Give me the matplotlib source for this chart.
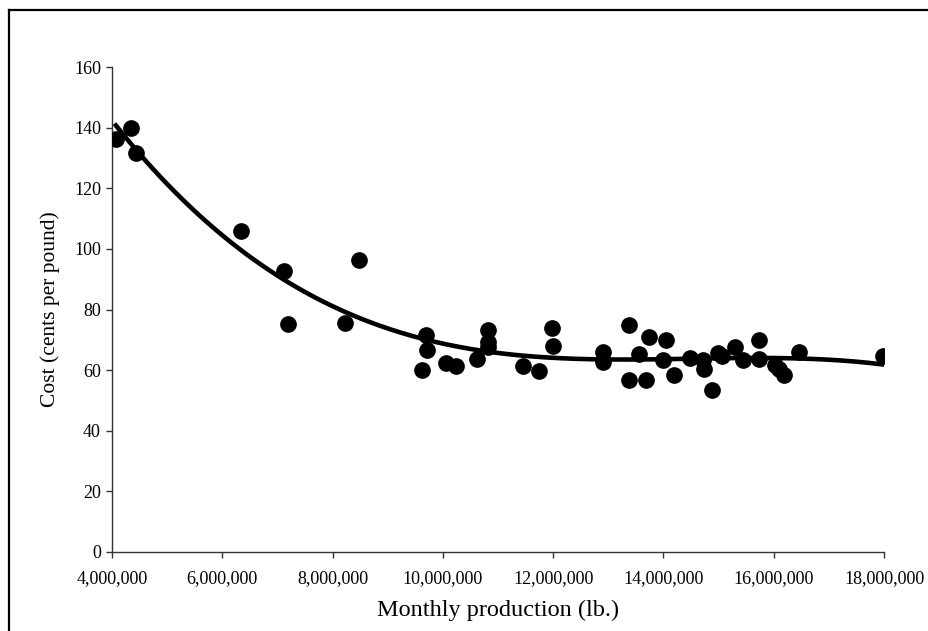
import numpy as np
import matplotlib.pyplot as plt
from matplotlib.lines import Line2D
from matplotlib.ticker import FuncFormatter

plt.rcParams["font.family"] = ["Liberation Serif", "DejaVu Serif"]

# Monthly production (lb.) and cost (cents per pound)
production = [4.07e6, 4.34e6, 4.44e6, 6.34e6, 7.11e6, 7.20e6, 8.23e6, 8.48e6,
              9.63e6, 9.69e6, 9.72e6, 10.06e6, 10.24e6, 10.61e6, 10.81e6, 10.81e6,
              10.81e6, 11.46e6, 11.74e6, 11.97e6, 12.00e6, 12.90e6, 12.90e6,
              13.38e6, 13.38e6, 13.56e6, 13.68e6, 13.73e6, 14.00e6, 14.04e6,
              14.19e6, 14.48e6, 14.71e6, 14.74e6, 14.88e6, 14.98e6, 15.06e6,
              15.30e6, 15.44e6, 15.73e6, 15.73e6, 16.02e6, 16.10e6, 16.19e6,
              16.45e6, 17.98e6]
cost = [136.4, 140.0, 131.7, 105.8, 92.6, 75.1, 75.7, 96.2,
        60.0, 71.7, 66.6, 62.4, 61.4, 63.6, 73.1, 69.3,
        67.5, 61.4, 59.6, 74.0, 67.9, 66.0, 62.7,
        74.8, 56.7, 65.2, 56.7, 70.9, 63.5, 70.1,
        58.3, 64.1, 63.3, 60.5, 53.4, 65.5, 64.6,
        67.6, 63.5, 69.9, 63.8, 61.6, 60.5, 58.3,
        66.0, 64.7]

x = np.array(production)
y = np.array(cost)

# third-order polynomial trendline (like the spreadsheet one)
coef = np.polyfit(x / 1e6, y, 3)
xs = np.linspace(x.min(), x.max(), 200)
ys = np.polyval(coef, xs / 1e6)

fig = plt.figure(figsize=(9.29, 6.31), dpi=100)
ax = fig.add_axes([0.1206, 0.1252, 0.8310, 0.7686])

ax.plot(x, y, "o", color="black", markersize=11, zorder=3)
ax.plot(xs, ys, color="black", linewidth=3.3, zorder=2)

ax.set_xlim(4e6, 18e6)
ax.set_ylim(0, 160)
ax.set_xticks(np.arange(4e6, 18e6 + 1, 2e6))
ax.set_yticks(np.arange(0, 161, 20))
ax.xaxis.set_major_formatter(FuncFormatter(lambda v, p: f"{int(v):,}"))

for side in ("top", "right"):
    ax.spines[side].set_visible(False)
for side in ("left", "bottom"):
    ax.spines[side].set_linewidth(1)
    ax.spines[side].set_color("#333333")
ax.tick_params(direction="out", length=4, width=1, color="#333333",
               labelsize=13, pad=4)
ax.tick_params(axis="x", pad=9)

ax.set_xlabel("Monthly production (lb.)", fontsize=17.5, labelpad=9)
ax.set_ylabel("Cost (cents per pound)", fontsize=15.5, labelpad=10)

# outer frame (left and top edges visible)
fig.add_artist(Line2D([9 / 929, 9 / 929], [0, 1 - 10 / 631], color="black", linewidth=1.6))
fig.add_artist(Line2D([9 / 929, 1], [1 - 10 / 631, 1 - 10 / 631], color="black", linewidth=1.6))

fig.savefig("out.png", dpi=100)
